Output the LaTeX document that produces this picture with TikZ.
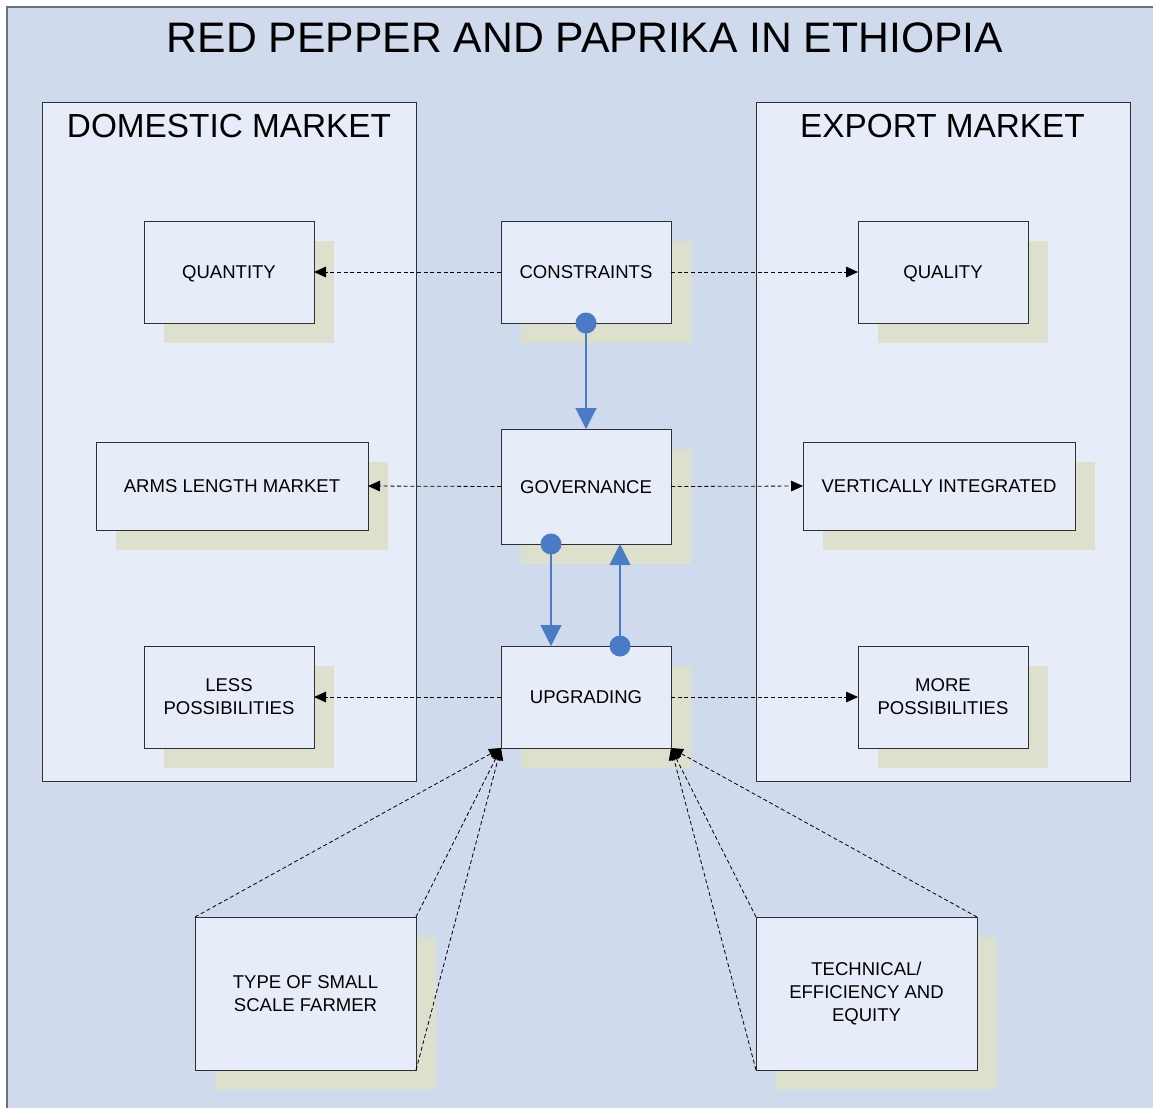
\documentclass[tikz,border=0pt]{standalone}
\usepackage{fontspec}
\setmainfont{Liberation Sans}
\usetikzlibrary{arrows.meta,shadows,calc}
\definecolor{bgc}{HTML}{CFDAEC}
\definecolor{boxc}{HTML}{E7EDF8}
\definecolor{shadc}{HTML}{DCE0CD}
\definecolor{linkc}{HTML}{4A7BC6}
\definecolor{framec}{HTML}{6C7078}
\definecolor{edgec}{HTML}{2F3033}
\tikzset{
  panel/.style={draw=edgec, fill=boxc, line width=0.6pt},
  item/.style={draw=edgec, fill=boxc, line width=0.75pt, inner sep=0pt, outer sep=0pt,
    align=center, font=\fontsize{13.9pt}{17.25pt}\selectfont,
    drop shadow={shadow xshift=15pt, shadow yshift=-15pt, fill=shadc, opacity=1}},
  oneline/.style={text height=10pt, text depth=0pt},
  small/.style={item, minimum width=127.5pt, minimum height=76.5pt},
  wide/.style={item, minimum width=204pt, minimum height=66pt},
  big/.style={item, minimum width=165.75pt, minimum height=114.75pt},
  flow/.style={draw=black, line width=0.6pt, dash pattern=on 3pt off 2pt,
    -{Triangle[length=9pt,width=8pt]}},
  link/.style={draw=linkc, line width=0.8pt, -{Triangle[length=15.75pt,width=15.75pt]}, color=linkc},
  knob/.style={fill=linkc}
}
\begin{document}
\begin{tikzpicture}[x=0.75pt,y=-0.75pt]
\useasboundingbox (0,0) rectangle (1153,1108);
% sheet
\fill[bgc] (7,7) rectangle (1153,1108);
\draw[framec, line width=1.6pt] (7,1108) -- (7,7) -- (1153,7);
\node[anchor=base, font=\fontsize{32pt}{38pt}\selectfont] (title) at (585,52) {RED PEPPER AND PAPRIKA IN ETHIOPIA};

% market panels
\draw[panel] (42,102) rectangle (416,781);
\draw[panel] (756,102) rectangle (1130,781);
\node[anchor=base, font=\fontsize{25pt}{30pt}\selectfont] (dom) at (229,137) {DOMESTIC MARKET};
\node[anchor=base, font=\fontsize{25pt}{30pt}\selectfont] (exp) at (942.5,137) {EXPORT MARKET};

% boxes
\node[small, oneline] (quant) at (229,272) {QUANTITY};
\node[small, oneline] (cons)  at (586,272) {CONSTRAINTS};
\node[small, oneline] (qual)  at (943,272) {QUALITY};
\node[wide, oneline]  (arms)  at (232,486) {ARMS LENGTH MARKET};
\node[item, oneline, minimum width=127.5pt, minimum height=86.25pt] (gov) at (586,486.5) {GOVERNANCE};
\node[wide, oneline]  (vert)  at (939,486) {VERTICALLY INTEGRATED};
\node[small] (less)  at (229,697) {LESS\\POSSIBILITIES};
\node[small, oneline] (upg)   at (586,697) {UPGRADING};
\node[small] (more)  at (943,697) {MORE\\POSSIBILITIES};
\node[big]   (farm)  at (305.5,993.5) {TYPE OF SMALL\\SCALE FARMER};
\node[big]   (tech)  at (866.5,993.5) {TECHNICAL/\\EFFICIENCY AND\\EQUITY};

% dashed links to the two markets
\draw[flow] (cons.west) -- (quant.east);
\draw[flow] (cons.east) -- (qual.west);
\draw[flow] (gov.west) -- (arms.east);
\draw[flow] (gov.east) -- (vert.west);
\draw[flow] (upg.west) -- (less.east);
\draw[flow] (upg.east) -- (more.west);

% factors feeding upgrading
\draw[flow] (farm.north west) -- (upg.south west);
\draw[flow] (farm.north east) -- (upg.south west);
\draw[flow] (farm.south east) -- (upg.south west);
\draw[flow] (tech.north east) -- (upg.south east);
\draw[flow] (tech.north west) -- (upg.south east);
\draw[flow] (tech.south west) -- (upg.south east);

% blue links between the central boxes
\coordinate (g1) at ($(gov.south)+(-35,0)$);
\coordinate (u1) at ($(upg.north)+(-35,0)$);
\coordinate (g2) at ($(gov.south)+(34,0)$);
\coordinate (u2) at ($(upg.north)+(34,0)$);
\draw[link] (cons.south) -- (gov.north);
\draw[link] (g1) -- (u1);
\draw[link] (u2) -- (g2);
\fill[knob] (cons.south) circle (10.5);
\fill[knob] (g1) circle (10.5);
\fill[knob] (u2) circle (10.5);
\end{tikzpicture}
\end{document}
